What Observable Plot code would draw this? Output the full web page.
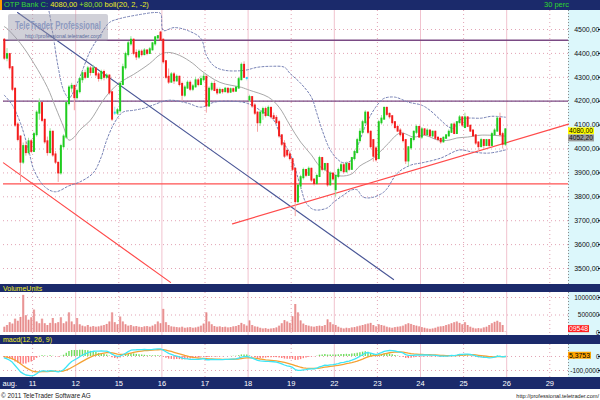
<!DOCTYPE html>
<html>
<head>
<meta charset="utf-8">
<script src="https://cdn.jsdelivr.net/npm/d3@7"></script>
<script src="https://cdn.jsdelivr.net/npm/@observablehq/plot@0.6"></script>
<style>
html,body{margin:0;padding:0;background:#fff;}
#page{position:relative;width:600px;height:400px;overflow:hidden;font-family:"Liberation Sans",Arial,sans-serif;}
.a{position:absolute;}
.navy{background:#1b2a6b;left:0;width:600px;}
.cyan{background:#dcf7fb;left:568px;width:32px;}
.lbl{white-space:nowrap;line-height:1;font-size:7.5px;}
</style>
</head>
<body>
<div id="page">
  <div class="a navy" style="top:0;height:10px"></div>
  <div class="a" style="left:0;top:0;width:2px;height:10px;background:#ff9c00"></div>
  <div class="a lbl" style="left:4px;top:1px"><span style="color:#35d835">OTP Bank C: </span><span style="color:#eeee22">4080,00</span> <span style="color:#9be02a">+80,00</span> <span style="color:#eeee22">boll(20, 2, -2)</span></div>
  <div class="a lbl" style="left:544px;top:1px;color:#2ed82e">30 perc</div>
  <div class="a cyan" style="top:10px;height:274px"></div>
  <div class="a navy" style="top:284px;height:8px"></div>
  <div class="a lbl" style="left:3px;top:284.5px;color:#eeee22;font-size:7px">VolumeUnits</div>
  <div class="a cyan" style="top:292px;height:43px"></div>
  <div class="a navy" style="top:335px;height:9px"></div>
  <div class="a lbl" style="left:3px;top:336px;color:#eeee22;font-size:7px">macd(12, 26, 9)</div>
  <div class="a cyan" style="top:344px;height:33px"></div>
  <div class="a navy" style="top:377px;height:12px"></div>
  <div class="a" id="main" style="left:0;top:10px"></div>
  <div class="a" id="vol" style="left:0;top:292px"></div>
  <div class="a" id="macd" style="left:0;top:344px"></div>
  <div class="a" id="xaxis" style="left:0;top:377px"></div>
  <svg class="a" id="over" width="600" height="400" style="left:0;top:0;pointer-events:none"></svg>
</div>
<script>
// ---------- data ----------
const dayLabels = ["aug.","11","12","15","16","17","18","19","22","23","24","25","26","29"];
// 30-minute candles [open, high, low, close]
const aug10 = [[4455,4462,4370,4380],[4380,4420,4365,4395],[4395,4400,4330,4340],[4340,4345,4240,4250],[4250,4255,4090,4100],[4100,4110,4030,4040],[4050,4055,3860,3945],[3945,4025,3935,4010],[4010,4030,3970,3985],[3985,4045,3975,4030],[4030,4040,3980,3990]];
const aug11 = [[3990,4070,3985,4060],[4060,4160,4050,4150],[4150,4210,4120,4190],[4190,4195,4110,4120],[4120,4125,4020,4030],[4030,4050,3970,3985],[3985,4085,3980,4070],[4070,4075,3965,3975],[3975,3990,3935,3945],[3940,3945,3860,3900],[3900,4020,3890,4010],[4010,4060,4000,4050],[4050,4195,4040,4190],[4190,4265,4180,4255],[4255,4275,4235,4262],[4262,4265,4160,4215]];
const aug12 = [[4215,4250,4205,4240],[4240,4300,4230,4290],[4290,4325,4275,4315],[4315,4330,4290,4300],[4300,4345,4295,4335],[4335,4345,4305,4320],[4320,4350,4315,4335],[4335,4340,4300,4310],[4310,4320,4280,4295],[4295,4330,4285,4320],[4320,4330,4285,4300],[4300,4315,4290,4305],[4305,4310,4225,4235],[4235,4240,4115,4125],[4150,4175,4140,4150],[4150,4170,4140,4160]];
const aug15 = [[4160,4280,4150,4270],[4270,4355,4265,4340],[4340,4405,4330,4395],[4395,4450,4385,4440],[4440,4470,4430,4455],[4455,4460,4390,4400],[4400,4415,4370,4385],[4385,4415,4375,4405],[4405,4415,4385,4395],[4395,4420,4390,4410],[4410,4415,4390,4400],[4400,4425,4395,4415],[4415,4445,4410,4440],[4440,4470,4430,4465],[4465,4475,4455,4470],[4485,4492,4450,4455]];
const aug16 = [[4455,4460,4355,4365],[4365,4370,4290,4300],[4300,4335,4270,4280],[4280,4320,4275,4310],[4310,4320,4270,4285],[4285,4310,4280,4300],[4300,4305,4260,4270],[4270,4280,4200,4225],[4225,4265,4215,4255],[4255,4285,4250,4275],[4275,4285,4240,4250],[4250,4270,4240,4260],[4260,4300,4255,4285],[4285,4295,4260,4270],[4270,4305,4265,4290],[4290,4315,4280,4300]];
const aug17 = [[4300,4305,4150,4180],[4180,4260,4175,4250],[4250,4280,4240,4270],[4270,4285,4240,4245],[4245,4255,4225,4235],[4235,4255,4230,4245],[4245,4250,4230,4240],[4240,4258,4235,4250],[4250,4255,4230,4238],[4238,4255,4232,4248],[4248,4255,4235,4242],[4242,4262,4238,4255],[4255,4300,4250,4290],[4290,4360,4285,4350],[4350,4365,4295,4300],[4295,4300,4285,4295]];
const aug18 = [[4205,4225,4195,4215],[4215,4220,4170,4180],[4180,4190,4140,4150],[4150,4155,4070,4110],[4110,4160,4095,4150],[4150,4175,4120,4165],[4165,4175,4130,4140],[4140,4180,4135,4170],[4170,4175,4125,4135],[4135,4150,4120,4128],[4128,4140,4105,4110],[4110,4120,4045,4055],[4055,4060,4010,4020],[4020,4035,3960,3970],[3990,4000,3965,3975],[3975,3990,3950,3960]];
const aug19 = [[3955,3960,3905,3915],[3915,3920,3717,3780],[3780,3850,3770,3845],[3845,3890,3830,3880],[3880,3920,3870,3910],[3910,3915,3880,3890],[3890,3925,3885,3915],[3915,3920,3860,3870],[3870,3875,3845,3855],[3855,3895,3850,3885],[3885,3970,3880,3960],[3960,3965,3905,3915],[3915,3940,3905,3935],[3935,3940,3840,3850],[3850,3905,3845,3895],[3895,3900,3865,3875]];
const aug22 = [[3830,3890,3800,3885],[3885,3920,3875,3910],[3910,3940,3900,3930],[3930,3940,3895,3905],[3905,3945,3900,3935],[3935,3945,3905,3915],[3915,3965,3910,3960],[3960,3995,3950,3985],[3985,4045,3980,4035],[4035,4085,4025,4070],[4070,4120,4060,4110],[4110,4160,4100,4150],[4150,4155,4060,4070],[4070,4075,4000,4010],[4035,4040,3945,3970],[4000,4010,3945,3955]];
const aug23 = [[3960,4120,3955,4110],[4110,4140,4100,4125],[4125,4175,4120,4170],[4170,4175,4135,4145],[4145,4150,4125,4135],[4135,4140,4100,4110],[4110,4115,4080,4090],[4090,4100,4070,4075],[4075,4085,4050,4060],[4060,4070,4025,4035],[4035,4040,3935,3950],[3950,4010,3925,4005],[4005,4045,3995,4040],[4040,4075,4030,4070],[4070,4100,4060,4090],[4090,4095,4045,4050]];
const aug24 = [[4050,4090,4040,4080],[4080,4085,4055,4060],[4060,4085,4050,4075],[4075,4080,4050,4055],[4055,4075,4045,4070],[4070,4075,4040,4045],[4045,4050,4030,4040],[4040,4045,4020,4030],[4030,4050,4025,4045],[4045,4060,4040,4055],[4055,4080,4050,4070],[4070,4105,4065,4100],[4100,4110,4060,4065],[4065,4115,4060,4110],[4110,4140,4105,4130],[4130,4135,4090,4100]];
const aug25 = [[4090,4150,4085,4130],[4130,4135,4090,4095],[4095,4100,4070,4075],[4075,4080,4050,4055],[4055,4060,4015,4025],[4025,4030,3985,4010],[4010,4045,4005,4035],[4035,4040,4000,4015],[4015,4040,4010,4035],[4035,4040,4005,4015],[4015,4070,4010,4060],[4060,4085,4055,4075],[4075,4135,4070,4125],[4125,4150,4050,4060],[4060,4070,4000,4020],[4020,4085,4010,4080]];

// volume per candle
const volAug10 = [150000,200000,280000,240000,380000,320000,430000,1060000,480000,350000,420000];
const volAug11 = [640000,300000,250000,380000,250000,200000,260000,400000,250000,280000,420000,250000,300000,560000,300000,220000];
const volAug12 = [400000,220000,180000,160000,200000,150000,170000,150000,160000,180000,200000,230000,300000,560000,280000,220000];
const volAug15 = [440000,300000,220000,180000,200000,160000,170000,150000,140000,160000,170000,150000,180000,220000,300000,250000];
const volAug16 = [660000,280000,200000,160000,150000,140000,130000,150000,120000,130000,140000,120000,130000,150000,180000,240000];
const volAug17 = [560000,300000,220000,170000,150000,160000,140000,150000,130000,140000,160000,170000,200000,260000,220000,180000];
const volAug18 = [330000,200000,160000,150000,120000,100000,110000,90000,100000,110000,130000,180000,250000,340000,300000,260000];
const volAug19 = [450000,800000,560000,330000,240000,200000,180000,160000,150000,170000,180000,170000,200000,360000,280000,220000];
const volAug22 = [200000,150000,120000,100000,120000,110000,130000,140000,160000,180000,200000,220000,240000,260000,200000,160000];
const volAug23 = [220000,200000,180000,150000,130000,120000,140000,150000,160000,180000,220000,250000,230000,200000,180000,160000];
const volAug24 = [140000,120000,100000,90000,100000,120000,150000,160000,170000,200000,220000,250000,280000,300000,260000,220000];
const volAug25 = [280000,200000,150000,120000,100000,110000,100000,130000,150000,200000,250000,290000,320000,280000,200000,9548];

// Bollinger bands read at candle indices [candle, value]
const bollMiddle = [[0,4512],[1,4504],[6,4442],[11,4358],[16,4258],[19,4175],[22,4092],[24,4037],[26,4050],[28,4079],[32,4121],[36,4192],[39,4237],[43,4279],[48,4312],[54,4358],[58,4396],[61,4404],[65,4392],[70,4358],[73,4329],[80,4279],[88,4258],[91,4246],[98,4217],[102,4175],[106,4100],[110,4029],[114,3975],[117,3929],[121,3900],[125,3887],[129,3896],[132,3929],[137,3962],[142,4017],[147,4067],[152,4050],[156,4058],[161,4037],[165,4037],[168,4046],[172,4050],[177,4058],[186,4054]];
const bollUpper = [[0,4780],[8,4720],[14,4640],[16,4600],[18,4483],[20,4342],[22,4246],[24,4212],[25,4225],[28,4300],[32,4412],[36,4483],[39,4529],[43,4546],[50,4562],[56,4571],[58,4567],[59,4496],[63,4508],[68,4496],[73,4462],[75,4392],[78,4346],[82,4329],[89,4329],[94,4342],[99,4346],[104,4342],[106,4317],[110,4275],[114,4217],[116,4150],[118,4079],[121,3996],[124,3954],[126,3942],[129,3954],[132,4037],[135,4121],[139,4192],[141,4212],[145,4217],[150,4196],[155,4183],[158,4162],[162,4121],[165,4092],[167,4087],[169,4121],[172,4129],[177,4129],[181,4137],[186,4133]];
const bollLower = [[0,4225],[3,4183],[6,4108],[9,3996],[11,3912],[15,3842],[19,3821],[24,3846],[28,3862],[33,3900],[36,3967],[38,4037],[41,4112],[44,4154],[48,4162],[52,4171],[55,4183],[61,4204],[68,4192],[73,4175],[78,4196],[84,4200],[90,4192],[95,4162],[100,4121],[103,4037],[106,3983],[110,3842],[112,3775],[115,3746],[120,3754],[122,3775],[126,3808],[129,3829],[131,3829],[133,3800],[136,3796],[141,3821],[146,3900],[151,3933],[155,3942],[162,3962],[169,3996],[174,3987],[180,3983],[186,3996]];

// drawn trend lines [day index, price]
const trendBlue = [[0.650,4571],[9.374,3454]];
const trendRed1 = [[0.325,3942],[4.200,3442]];
const trendRed2 = [[5.638,3687],[13.434,4104]];
const levelsPurple = [4455, 4200];
const levelsRed = [3854];

const priceTicks = [3500,3600,3700,3800,3900,4000,4100,4200,4300,4400,4500];
const volumeTicks = [0, 500000, 1000000];
const macdTicks = [0, -100];
const lastClose = 4080, lastMiddle = 4052.20, lastVolumeLabel = "09548", lastSignal = 5.3753;

// ---------- build ----------
const days = [aug10,aug11,aug12,aug15,aug16,aug17,aug18,aug19,aug22,aug23,aug24,aug25];
const vols = [volAug10,volAug11,volAug12,volAug15,volAug16,volAug17,volAug18,volAug19,volAug22,volAug23,volAug24,volAug25];
const tOf = i => (i + 5.5) / 16;   // candle index -> trading-day position (aug 10 starts at slot 5)
const candles = [];
days.forEach((d, k) => d.forEach(([o,h,l,c], j) => {
  candles.push({t: tOf(candles.length), o, h, l, c, v: vols[k][j]});
}));
// MACD(12,26,9) from the closes; the averages start from the prior 20-bar mean shown by the middle band
function ema(vals, n, seed){ const k = 2/(n+1); let e = seed; return vals.map(v => (e = v*k + e*(1-k))); }
const closes = candles.map(d=>d.c);
const seed = bollMiddle[0][1];
const e12 = ema(closes,12,seed), e26 = ema(closes,26,seed);
const macdV = e12.map((v,i)=> v - e26[i]);
const sigV = ema(macdV, 9, 0);
const macd = candles.map((d,i)=>({t:d.t, m:macdV[i], s:sigV[i], h:macdV[i]-sigV[i]}));

const up = candles.filter(d=>d.c>d.o), dn = candles.filter(d=>d.c<d.o), dj = candles.filter(d=>d.c===d.o);
const xDomain = [14/43.1, 579/43.1];
const dayTicks = dayLabels.map((label,k)=>({t:k,label}));
const gridSolid = dayTicks.filter(d=>d.t>0 && d.t%2===0).map(d=>d.t);
const gridDotted = dayTicks.filter(d=>d.t%2===1).map(d=>d.t);
const bandPts = arr => arr.map(([i,v])=>({t:tOf(i), v}));
const pair = arr => arr.map(([t,v])=>({t, v}));
const base = {width:600, marginLeft:3, marginRight:32, marginTop:0, marginBottom:0,
  style:{background:"transparent", overflow:"hidden", fontFamily:"Liberation Sans, Arial, sans-serif"}};
const gridMarks = [
  Plot.ruleX(gridSolid, {stroke:"#f1c2ce", strokeWidth:1}),
  Plot.ruleX(gridDotted, {stroke:"#e2a3b4", strokeDasharray:"1,3"}),
  Plot.ruleX([xDomain[1]], {stroke:"#8a8a8a", strokeDasharray:"1,2"})
];
const axisOpts = {anchor:"right", label:null, tickSize:2, tickPadding:0, textAnchor:"end", dx:29, fontSize:7, color:"#111"};

const main = Plot.plot({...base, height:274,
  x:{domain:xDomain, axis:null, label:null},
  y:{domain:[3433.1, 4579.5], label:null},
  marks:[
    ...gridMarks,
    Plot.ruleY(priceTicks, {stroke:"#e2a3b4", strokeDasharray:"1,3"}),
    Plot.ruleY(levelsPurple, {stroke:"#7a4a84", strokeWidth:1.3}),
    Plot.ruleY(levelsRed, {stroke:"#ff5050", strokeWidth:1.3}),
    Plot.line(bandPts(bollMiddle), {x:"t", y:"v", stroke:"#a8a8a8", strokeWidth:1, curve:"catmull-rom"}),
    Plot.line(bandPts(bollUpper), {x:"t", y:"v", stroke:"#7580b4", strokeWidth:1, strokeDasharray:"2,2", curve:"catmull-rom"}),
    Plot.line(bandPts(bollLower), {x:"t", y:"v", stroke:"#7580b4", strokeWidth:1, strokeDasharray:"2,2", curve:"catmull-rom"}),
    Plot.line(pair(trendBlue), {x:"t", y:"v", stroke:"#4a5797", strokeWidth:1.2}),
    Plot.line(pair(trendRed1), {x:"t", y:"v", stroke:"#ff4b4b", strokeWidth:1.2}),
    Plot.line(pair(trendRed2), {x:"t", y:"v", stroke:"#ff4b4b", strokeWidth:1.2}),
    Plot.ruleX(up, {x:"t", y1:"l", y2:"h", stroke:"#9ee39e", strokeWidth:1}),
    Plot.ruleX(dn, {x:"t", y1:"l", y2:"h", stroke:"#f5a3a3", strokeWidth:1}),
    Plot.ruleX(dj, {x:"t", y1:"l", y2:"h", stroke:"#9feaf5", strokeWidth:1}),
    Plot.ruleX(up, {x:"t", y1:"o", y2:"c", stroke:"#1fcc1f", strokeWidth:2, strokeLinecap:"square"}),
    Plot.ruleX(dn, {x:"t", y1:"o", y2:"c", stroke:"#f41c1c", strokeWidth:2, strokeLinecap:"square"}),
    Plot.ruleX(dj, {x:"t", y1:"o", y2:"c", stroke:"#2ad8f4", strokeWidth:2, strokeLinecap:"square"}),
    Plot.axisY(priceTicks, {...axisOpts, tickFormat:d=>d.toFixed(2).replace(".", ",")})
  ]});
document.getElementById("main").append(main);

const volPlot = Plot.plot({...base, height:43,
  x:{domain:xDomain, axis:null, label:null},
  y:{domain:[-85714, 1142857], label:null},
  marks:[
    ...gridMarks,
    Plot.ruleY(volumeTicks.slice(1), {stroke:"#e2a3b4", strokeDasharray:"1,3"}),
    Plot.ruleX(candles, {x:"t", y1:0, y2:"v", stroke:"#f3b6b6", strokeWidth:2.4}),
    Plot.ruleX(candles, {x:"t", y1:0, y2:"v", stroke:"#e07a7a", strokeWidth:0.8}),
    Plot.axisY(volumeTicks, {...axisOpts, fontSize:6.5, tickFormat:d=>String(d)})
  ]});
document.getElementById("vol").append(volPlot);

const macdPlot = Plot.plot({...base, height:33,
  x:{domain:xDomain, axis:null, label:null},
  y:{domain:[-150, 85.7], label:null},
  marks:[
    ...gridMarks,
    Plot.ruleY(macdTicks, {stroke:"#e2a3b4", strokeDasharray:"1,3"}),
    Plot.ruleX(macd.filter(d=>d.h>=0), {x:"t", y1:0, y2:"h", stroke:"#6fdc5c", strokeWidth:1.4}),
    Plot.ruleX(macd.filter(d=>d.h<0), {x:"t", y1:0, y2:"h", stroke:"#ff7a7a", strokeWidth:1.4}),
    Plot.line(macd, {x:"t", y:"s", stroke:"#f4a234", strokeWidth:1.3}),
    Plot.line(macd, {x:"t", y:"m", stroke:"#3ee6f6", strokeWidth:1.3}),
    Plot.axisY(macdTicks, {...axisOpts, fontSize:6.5, tickFormat:d=> d===0 ? "0" : d.toFixed(4).replace(".", ",")})
  ]});
document.getElementById("macd").append(macdPlot);

const xAxis = Plot.plot({...base, height:12,
  x:{domain:xDomain, axis:null, label:null},
  marks:[
    Plot.text(dayTicks.filter(d=>d.t>0), {x:"t", text:"label", frameAnchor:"middle", fill:"#ffffff", fontSize:7.5}),
    Plot.text(dayTicks.filter(d=>d.t===0), {x:()=>xDomain[0], text:"label", frameAnchor:"middle", textAnchor:"start", dx:-1, fill:"#ffffff", fontSize:7.5})
  ]});
document.getElementById("xaxis").append(xAxis);

// ---------- overlays (value flags, watermark, footer) ----------
const svg = d3.select("#over");
function flag(top, yPix, w, bg, fg, txt){
  svg.append("rect").attr("x",568).attr("y",top+yPix-3.5).attr("width",w).attr("height",7).attr("fill",bg);
  svg.append("text").attr("x",569).attr("y",top+yPix+2.4).attr("font-size",6.5).attr("fill",fg)
    .attr("font-family","Liberation Sans, Arial").attr("textLength",w-2).attr("lengthAdjust","spacingAndGlyphs").text(txt);
}
const yMain = main.scale("y"), yVol = volPlot.scale("y"), yMacd = macdPlot.scale("y");
flag(10, yMain.apply(lastClose)+1.5, 26, "#ffff00", "#000", lastClose.toFixed(2).replace(".", ","));
flag(10, yMain.apply(lastClose)+8.5, 26, "#9a9a9a", "#111", lastMiddle.toFixed(2).replace(".", ","));
flag(292, yVol.apply(9548)-3, 21, "#ff2020", "#fff", lastVolumeLabel);
flag(344, yMacd.apply(lastSignal), 23, "#ffa500", "#000", lastSignal.toFixed(4).replace(".", ","));

svg.append("rect").attr("x",8).attr("y",14).attr("width",100).attr("height",27).attr("rx",2)
  .attr("fill","rgba(150,150,168,0.45)");
svg.append("text").attr("x",15).attr("y",29).attr("font-size",10.5).attr("font-weight","bold")
  .attr("font-family","Liberation Sans, Arial").attr("fill","#8e9ac0").attr("textLength",86)
  .attr("lengthAdjust","spacingAndGlyphs").text("TeleTrader Professional");
svg.append("text").attr("x",25).attr("y",37.5).attr("font-size",5.2)
  .attr("font-family","Liberation Sans, Arial").attr("fill","#5d6c9c").text("http://professional.teletrader.com/");
svg.append("text").attr("x",1).attr("y",398).attr("font-size",6.4)
  .attr("font-family","Liberation Sans, Arial").attr("fill","#222").text("© 2011 TeleTrader Software AG");
svg.append("text").attr("x",599).attr("y",398).attr("text-anchor","end").attr("font-size",5.6)
  .attr("font-family","Liberation Sans, Arial").attr("fill","#222").text("http://professional.teletrader.com/");
</script>
</body>
</html>
